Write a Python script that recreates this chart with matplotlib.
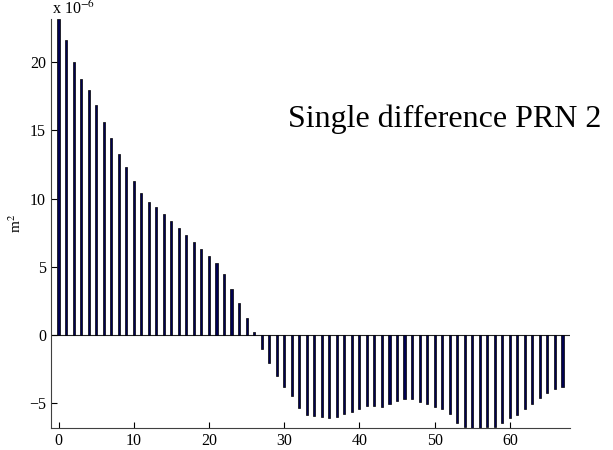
import matplotlib
matplotlib.use("Agg")
import matplotlib.pyplot as plt
import numpy as np

# Single difference values, in units of 1e-6 m^2, one per epoch
epochs = list(range(68))
diff_values = [
  23.15, 21.59, 20.00, 18.78, 17.95, 16.87, 15.60, 14.46, 13.28, 12.33,
  11.26, 10.40, 9.77, 9.38, 8.84, 8.33, 7.82, 7.33, 6.79, 6.30,
  5.81, 5.30, 4.49, 3.37, 2.32, 1.22, 0.24, -1.03, -2.08, -2.98,
  -3.79, -4.44, -5.32, -5.86, -5.93, -6.03, -6.08, -6.00, -5.79, -5.62,
  -5.42, -5.20, -5.23, -5.25, -5.05, -4.86, -4.66, -4.66, -4.90, -5.06,
  -5.24, -5.40, -5.81, -6.47, -6.75, -6.79, -6.79, -6.77, -6.72, -6.47,
  -6.08, -5.88, -5.42, -5.05, -4.59, -4.25, -3.98, -3.83,
]
x_ticks = [0, 10, 20, 30, 40, 50, 60]
y_ticks = [-5, 0, 5, 10, 15, 20]
chart_title = "Single difference PRN 2"

plt.rcParams["font.family"] = ["Liberation Serif", "DejaVu Serif"]
plt.rcParams["mathtext.fontset"] = "stix"

fig = plt.figure(figsize=(6.13, 4.5), dpi=100)
ax = fig.add_axes([51/613, 1 - 427.7/450, (570 - 51)/613, (427.7 - 19)/450])

# Bars like matlab's default bar style
ax.bar(epochs, diff_values, width=0.28, color="#000050", edgecolor="black", linewidth=0.5, zorder=2)
ax.axhline(0, color="#202020", linewidth=0.8, zorder=1)

ax.set_xlim(-1, 68)
ax.set_ylim(-6.79, 23.15)
ax.set_xticks(x_ticks)
ax.set_yticks(y_ticks)
ax.tick_params(direction="in", length=4, width=0.8, labelsize=11.5, colors="black")

# Only left and bottom axis lines
for side in ["top", "right"]:
  ax.spines[side].set_visible(False)
for side in ["left", "bottom"]:
  ax.spines[side].set_color("#404040")
  ax.spines[side].set_linewidth(0.8)

# y label, placed by hand so it stays inside the figure
fig.text(16/613, 1 - 223/450, "m$^2$", fontsize=11, rotation=90, ha="center", va="center")

# Scale factor and caption text
fig.text(52/613, 1 - 14/450, "x 10$^{-6}$", fontsize=11.5, ha="left", va="baseline")
fig.text(288/613, 1 - 127/450, chart_title, fontsize=23, ha="left", va="baseline")

fig.savefig("out.png", dpi=100)
